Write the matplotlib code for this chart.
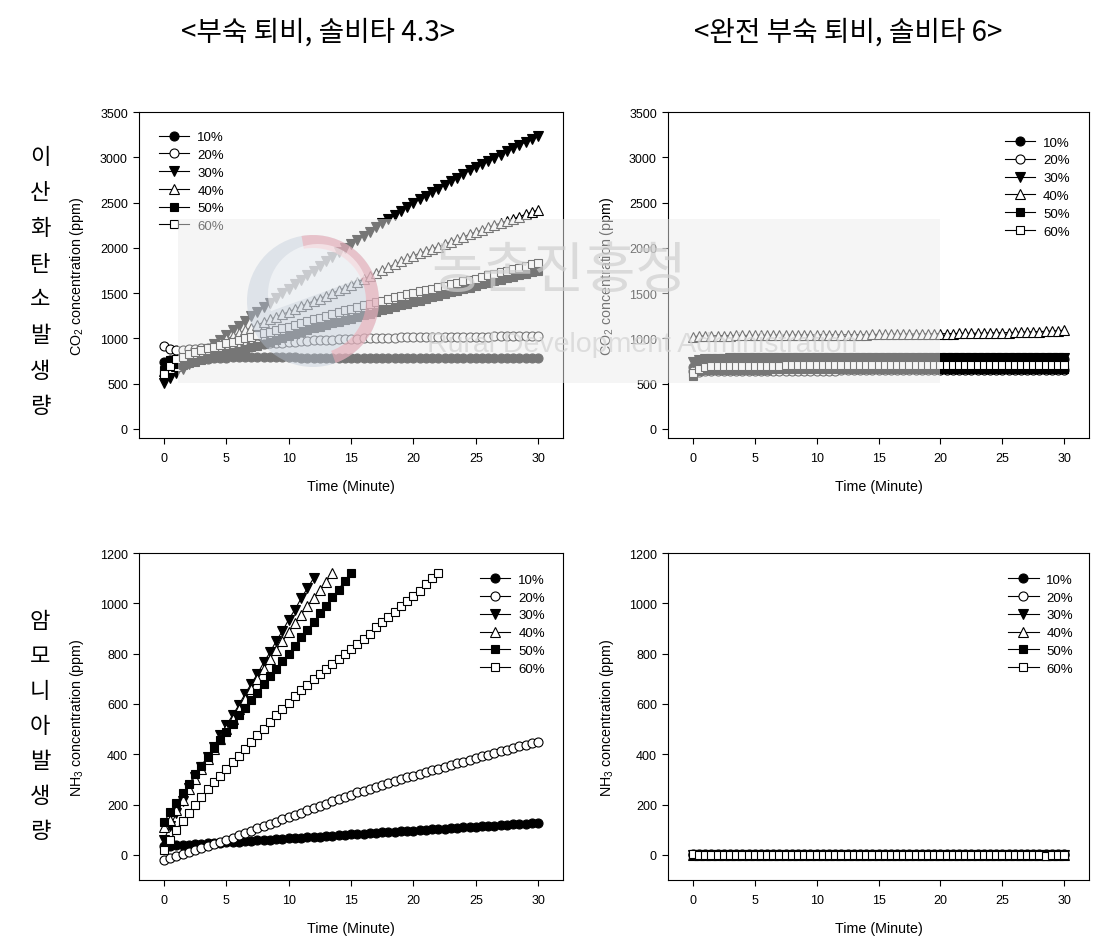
import matplotlib.pyplot as plt
from matplotlib.patches import Rectangle, Circle, Wedge

plt.rcParams['font.family'] = ['Liberation Sans', 'DejaVu Sans']
plt.rcParams['mathtext.default'] = 'regular'

kr_font = ['Noto Sans CJK KR', 'DejaVu Sans']

# Time of each reading (minutes)
time = [0, 0.5, 1, 1.5, 2, 2.5, 3, 3.5, 4, 4.5,
        5, 5.5, 6, 6.5, 7, 7.5, 8, 8.5, 9, 9.5,
        10, 10.5, 11, 11.5, 12, 12.5, 13, 13.5, 14, 14.5,
        15, 15.5, 16, 16.5, 17, 17.5, 18, 18.5, 19, 19.5,
        20, 20.5, 21, 21.5, 22, 22.5, 23, 23.5, 24, 24.5,
        25, 25.5, 26, 26.5, 27, 27.5, 28, 28.5, 29, 29.5,
        30]

labels = ['10%', '20%', '30%', '40%', '50%', '60%']

# CO2, partly composted (솔비타 4.3)
co2_a_10 = [740, 760, 725, 730, 745, 758, 768, 776, 782, 786,
            789, 790, 791, 791, 791, 791, 790, 790, 790, 790,
            790, 790, 789, 789, 789, 789, 789, 788, 788, 788,
            788, 788, 788, 787, 787, 787, 787, 787, 787, 786,
            786, 786, 786, 786, 786, 786, 785, 785, 785, 785,
            785, 785, 785, 785, 785, 784, 784, 784, 784, 784,
            784]
co2_a_20 = [920, 880, 870, 875, 880, 885, 890, 895, 900, 905,
            910, 915, 920, 925, 930, 935, 940, 945, 950, 955,
            960, 965, 970, 975, 978, 981, 984, 987, 990, 993,
            996, 998, 1000, 1002, 1004, 1006, 1008, 1010, 1011, 1012,
            1013, 1014, 1015, 1016, 1017, 1018, 1018, 1019, 1019, 1020,
            1020, 1021, 1021, 1022, 1022, 1023, 1023, 1024, 1024, 1025,
            1025]
co2_a_30 = [510, 560, 615, 665, 720, 775, 830, 880, 935, 985,
            1040, 1090, 1140, 1195, 1245, 1295, 1345, 1395, 1450, 1500,
            1550, 1600, 1650, 1700, 1750, 1800, 1850, 1900, 1950, 1995,
            2045, 2090, 2135, 2180, 2225, 2270, 2315, 2360, 2405, 2450,
            2495, 2535, 2575, 2615, 2655, 2695, 2735, 2775, 2815, 2855,
            2890, 2925, 2960, 2995, 3030, 3065, 3100, 3135, 3170, 3200,
            3230]
co2_a_40 = [640, 670, 700, 730, 760, 795, 830, 870, 910, 950,
            990, 1025, 1060, 1090, 1120, 1150, 1180, 1210, 1240, 1265,
            1295, 1325, 1355, 1385, 1415, 1440, 1470, 1500, 1530, 1560,
            1590, 1625, 1655, 1690, 1720, 1755, 1785, 1820, 1850, 1885,
            1915, 1940, 1965, 1990, 2015, 2040, 2070, 2095, 2120, 2150,
            2175, 2200, 2225, 2250, 2275, 2300, 2320, 2345, 2370, 2395,
            2420]
co2_a_50 = [650, 760, 720, 705, 725, 745, 765, 785, 800, 820,
            835, 850, 865, 880, 900, 920, 940, 960, 985, 1005,
            1030, 1050, 1070, 1090, 1110, 1125, 1145, 1165, 1185, 1200,
            1220, 1238, 1256, 1274, 1292, 1310, 1328, 1346, 1364, 1382,
            1400, 1418, 1436, 1454, 1472, 1490, 1508, 1526, 1544, 1562,
            1580, 1597, 1613, 1630, 1646, 1663, 1679, 1696, 1712, 1729,
            1745]
co2_a_60 = [610, 700, 770, 800, 825, 850, 870, 890, 910, 930,
            945, 965, 985, 1000, 1020, 1035, 1055, 1075, 1090, 1110,
            1130, 1150, 1170, 1190, 1210, 1230, 1250, 1270, 1290, 1310,
            1330, 1348, 1366, 1384, 1400, 1418, 1435, 1452, 1470, 1487,
            1505, 1520, 1535, 1550, 1565, 1580, 1598, 1614, 1630, 1645,
            1660, 1678, 1695, 1712, 1730, 1748, 1765, 1783, 1800, 1818,
            1835]

# CO2, fully composted (솔비타 6)
co2_b_10 = [690, 740, 750, 755, 758, 760, 761, 762, 762, 763,
            763, 763, 764, 764, 764, 764, 765, 765, 765, 765,
            765, 765, 765, 765, 766, 766, 766, 766, 766, 766,
            766, 766, 767, 767, 767, 767, 767, 767, 767, 767,
            768, 768, 768, 768, 768, 768, 768, 768, 769, 769,
            769, 769, 769, 769, 769, 770, 770, 770, 770, 770,
            770]
co2_b_20 = [640, 630, 635, 638, 640, 641, 642, 642, 643, 643,
            643, 644, 644, 644, 644, 645, 645, 645, 645, 645,
            645, 645, 645, 645, 646, 646, 646, 646, 646, 646,
            646, 646, 646, 646, 646, 646, 646, 646, 647, 647,
            647, 647, 647, 647, 647, 647, 647, 647, 647, 647,
            647, 647, 647, 648, 648, 648, 648, 648, 648, 648,
            648]
co2_b_30 = [740, 765, 772, 775, 777, 778, 779, 779, 780, 780,
            780, 780, 781, 781, 781, 781, 781, 782, 782, 782,
            782, 782, 782, 782, 783, 783, 783, 783, 783, 783,
            783, 784, 784, 784, 784, 784, 784, 785, 785, 785,
            785, 785, 785, 785, 786, 786, 786, 786, 786, 786,
            787, 787, 787, 787, 787, 788, 788, 788, 788, 788,
            789]
co2_b_40 = [1020, 1025, 1028, 1030, 1031, 1032, 1032, 1033, 1033, 1034,
            1034, 1035, 1035, 1036, 1036, 1037, 1037, 1038, 1038, 1039,
            1039, 1040, 1040, 1041, 1041, 1042, 1042, 1043, 1043, 1044,
            1045, 1045, 1046, 1047, 1047, 1048, 1049, 1049, 1050, 1051,
            1052, 1053, 1054, 1055, 1056, 1057, 1058, 1059, 1060, 1062,
            1063, 1065, 1067, 1069, 1071, 1073, 1076, 1079, 1082, 1086,
            1090]
co2_b_50 = [590, 640, 650, 652, 653, 654, 655, 655, 655, 656,
            656, 656, 656, 657, 657, 657, 657, 657, 657, 657,
            658, 658, 658, 658, 658, 658, 658, 658, 658, 659,
            659, 659, 659, 659, 659, 659, 659, 659, 659, 660,
            660, 660, 660, 660, 660, 660, 660, 660, 660, 660,
            661, 661, 661, 661, 661, 661, 661, 661, 661, 661,
            662]
co2_b_60 = [620, 665, 685, 692, 695, 697, 698, 699, 700, 700,
            700, 701, 701, 701, 701, 702, 702, 702, 702, 702,
            703, 703, 703, 703, 703, 704, 704, 704, 704, 704,
            705, 705, 705, 705, 705, 705, 706, 706, 706, 706,
            706, 707, 707, 707, 707, 707, 707, 708, 708, 708,
            708, 708, 709, 709, 709, 709, 709, 710, 710, 710,
            710]

# NH3, partly composted (the fast series stop once they reach the top)
nh3_a_10 = [35, 36, 38, 40, 41, 43, 44, 46, 47, 49,
            50, 52, 53, 55, 56, 58, 60, 61, 63, 64,
            66, 67, 69, 70, 72, 73, 75, 76, 78, 79,
            81, 83, 84, 86, 87, 89, 90, 92, 93, 95,
            96, 98, 99, 101, 102, 104, 105, 107, 109, 110,
            112, 113, 115, 116, 118, 119, 121, 122, 124, 126,
            128]
nh3_a_20 = [-20, -12, -5, 3, 10, 18, 27, 35, 43, 52,
            60, 69, 78, 87, 96, 105, 114, 123, 132, 141,
            150, 159, 168, 177, 186, 195, 204, 213, 222, 231,
            240, 248, 255, 263, 270, 278, 285, 293, 300, 308,
            315, 322, 329, 336, 343, 350, 357, 364, 371, 378,
            385, 392, 398, 405, 411, 418, 424, 431, 437, 444,
            450]
nh3_a_30 = [60, 115, 165, 215, 265, 310, 350, 390, 430, 475,
            515, 555, 595, 640, 680, 720, 765, 805, 850, 890,
            935, 975, 1020, 1060, 1100]
nh3_a_40 = [110, 140, 180, 220, 260, 300, 340, 380, 420, 460,
            500, 540, 580, 620, 660, 700, 740, 780, 815, 850,
            885, 920, 955, 990, 1020, 1055, 1085, 1120]
nh3_a_50 = [130, 170, 205, 245, 280, 320, 355, 390, 425, 455,
            490, 520, 555, 585, 615, 645, 680, 710, 740, 770,
            800, 830, 865, 895, 925, 960, 990, 1025, 1055, 1090,
            1120]
nh3_a_60 = [20, 60, 100, 135, 165, 200, 230, 260, 290, 315,
            340, 370, 395, 420, 450, 475, 500, 530, 555, 580,
            605, 630, 655, 675, 700, 720, 740, 760, 780, 800,
            820, 840, 860, 880, 905, 925, 945, 965, 990, 1010,
            1030, 1050, 1075, 1100, 1120]

# NH3, fully composted (all close to zero)
nh3_b_10 = [2, 2, 2, 2, 2, 2, 2, 2, 2, 2,
            2, 2, 2, 2, 2, 2, 3, 3, 3, 3,
            3, 3, 3, 3, 3, 3, 3, 3, 3, 3,
            3, 3, 3, 3, 3, 3, 3, 3, 3, 3,
            3, 3, 3, 3, 3, 3, 3, 3, 3, 3,
            3, 3, 3, 3, 3, 3, 3, 3, 3, 3,
            3]
nh3_b_20 = [1, 1, 1, 1, 1, 1, 1, 1, 1, 1,
            1, 1, 1, 1, 1, 1, 1, 1, 1, 1,
            1, 1, 1, 1, 1, 1, 1, 1, 1, 1,
            1, 1, 1, 1, 1, 1, 1, 1, 1, 1,
            1, 1, 1, 1, 1, 1, 1, 1, 1, 1,
            1, 1, 1, 1, 1, 1, 1, 1, 1, 1,
            1]
nh3_b_30 = [-1, -1, -1, -1, -1, -1, -1, -1, -1, -1,
            -1, -1, -1, -1, -1, -1, -1, -1, -1, -1,
            -1, -1, -1, -1, -1, -1, -1, -1, -1, -1,
            -1, -1, -1, -1, -1, -1, -1, -1, -1, -1,
            -1, -1, -1, -1, -1, -1, -1, -1, -1, -1,
            -1, -1, -1, -1, -1, -1, -1, -1, -1, -1,
            -1]
nh3_b_40 = [0, 0, 0, 0, 0, 0, 0, 0, 0, 0,
            0, 0, 0, 0, 0, 0, 0, 0, 0, 0,
            0, 0, 0, 0, 0, 0, 0, 0, 0, 0,
            0, 0, 0, 0, 0, 0, 0, 0, 0, 0,
            0, 0, 0, 0, 0, 0, 0, 0, 0, 0,
            0, 0, 0, 0, 0, 0, 0, 0, 0, 0,
            0]
nh3_b_50 = [1, 1, 1, 1, 1, 0, 0, 0, 0, 0,
            0, 0, 0, 0, 0, 0, 0, -2, 0, 0,
            1, 1, 1, 1, 1, 1, 1, 1, 1, 1,
            1, 1, 1, 1, 1, 1, 1, 1, 1, 1,
            1, 1, 1, 1, 1, 1, 1, 1, 1, 1,
            1, 1, 1, 1, 1, 1, 1, 1, 1, 1,
            1]
nh3_b_60 = [2, 1, 1, 0, 0, 0, 0, 0, 0, 0,
            0, 0, 0, 0, 0, 0, 0, -1, 0, 0,
            0, 0, 0, 0, 0, 0, 0, 0, 0, 0,
            0, 0, 0, 0, 0, 0, 0, 0, 0, 0,
            0, 0, 0, 0, 0, 0, 0, 0, 0, 0,
            0, 0, 0, 0, 0, 0, 0, -3, 0, 0,
            0]

# Marker styles per series
markers = ['o', 'o', 'v', '^', 's', 's']
faces = ['black', 'white', 'black', 'white', 'black', 'white']
msizes = [6.5, 6.5, 7, 7, 6, 6]


def draw_panel(ax, series, ylim, yticks, ylabel, anchor, label_x):
    for vals, lab, m, fc, ms in zip(series, labels, markers, faces, msizes):
        ax.plot(time[:len(vals)], vals, color='black', lw=0.8, marker=m,
                ms=ms, mfc=fc, mec='black', mew=0.8, label=lab)
    ax.set_xlim(-2, 32)
    ax.set_ylim(*ylim)
    ax.set_xticks([0, 5, 10, 15, 20, 25, 30])
    ax.set_yticks(yticks)
    ax.tick_params(direction='out', length=4.5, width=0.8, labelsize=9)
    ax.tick_params(axis='x', pad=5.5)
    ax.tick_params(axis='y', pad=3.5)
    for sp in ax.spines.values():
        sp.set_linewidth(0.8)
    ax.set_xlabel('Time (Minute)', fontsize=10.3)
    ax.xaxis.set_label_coords(0.5, -0.125)
    ax.set_ylabel(ylabel, fontsize=10.3)
    ax.yaxis.set_label_coords(label_x, 0.5)
    ax.legend(loc='upper left', bbox_to_anchor=anchor, frameon=False,
              fontsize=9.5, handlelength=2.3, handletextpad=0.6,
              labelspacing=0.42, borderpad=0, borderaxespad=0)


fig = plt.figure(figsize=(10.98, 9.45), dpi=100)

ax_tl = fig.add_axes([0.1266, 0.5354, 0.3862, 0.345])
ax_tr = fig.add_axes([0.6084, 0.5354, 0.3834, 0.345])
ax_bl = fig.add_axes([0.1266, 0.0677, 0.3862, 0.346])
ax_br = fig.add_axes([0.6084, 0.0677, 0.3834, 0.346])

co2_ticks = [0, 500, 1000, 1500, 2000, 2500, 3000, 3500]
nh3_ticks = [0, 200, 400, 600, 800, 1000, 1200]
co2_label = 'CO$_2$ concentration (ppm)'
nh3_label = 'NH$_3$ concentration (ppm)'

draw_panel(ax_tl, [co2_a_10, co2_a_20, co2_a_30, co2_a_40, co2_a_50, co2_a_60],
           (-100, 3500), co2_ticks, co2_label, (0.047, 0.942), -0.125)
draw_panel(ax_tr, [co2_b_10, co2_b_20, co2_b_30, co2_b_40, co2_b_50, co2_b_60],
           (-100, 3500), co2_ticks, co2_label, (0.80, 0.925), -0.124)
draw_panel(ax_bl, [nh3_a_10, nh3_a_20, nh3_a_30, nh3_a_40, nh3_a_50, nh3_a_60],
           (-100, 1200), nh3_ticks, nh3_label, (0.804, 0.937), -0.125)
draw_panel(ax_br, [nh3_b_10, nh3_b_20, nh3_b_30, nh3_b_40, nh3_b_50, nh3_b_60],
           (-100, 1200), nh3_ticks, nh3_label, (0.808, 0.937), -0.124)

# Column titles
fig.text(318 / 1098, 1 - 33 / 945, '<부숙 퇴비, 솔비타 4.3>', ha='center',
         va='center', fontsize=20, family=kr_font)
fig.text(848 / 1098, 1 - 33 / 945, '<완전 부숙 퇴비, 솔비타 6>', ha='center',
         va='center', fontsize=20, family=kr_font)

# Row titles, written top to bottom
for i, ch in enumerate('이산화탄소발생량'):
    fig.text(40 / 1098, 1 - (157 + i * 35.7) / 945, ch, ha='center',
             va='center', fontsize=16, family=kr_font)
for i, ch in enumerate('암모니아발생량'):
    fig.text(40 / 1098, 1 - (622 + i * 35) / 945, ch, ha='center',
             va='center', fontsize=16, family=kr_font)

# Faded watermark pasted over the upper panels
fig.add_artist(Rectangle((178 / 1098, 1 - 384 / 945), 762 / 1098, 164 / 945,
                         transform=fig.transFigure, fc='#ececec', ec='none',
                         alpha=0.5, zorder=10))
fig.add_artist(Circle((3.13, 6.43), 0.66, transform=fig.dpi_scale_trans,
                      fc='#bcc8d8', ec='none', alpha=0.4, zorder=11))
fig.add_artist(Wedge((3.13, 6.43), 0.66, -70, 100, width=0.13,
                     transform=fig.dpi_scale_trans, fc='#f0a8b2', ec='none',
                     alpha=0.55, zorder=11))
fig.add_artist(Wedge((3.18, 6.5), 0.5, 20, 200,
                     transform=fig.dpi_scale_trans, fc='white', ec='none',
                     alpha=0.5, zorder=11))
fig.text(559 / 1098, 1 - 272 / 945, '농촌진흥청', ha='center', va='center',
         fontsize=40, color='#cfcfcf', alpha=0.7, family=kr_font, zorder=12)
fig.text(642 / 1098, 1 - 345 / 945, 'Rural Development Administration',
         ha='center', va='center', fontsize=20.5, color='#d2d2d2', alpha=0.7,
         zorder=12)

fig.savefig('out.png', dpi=100)
